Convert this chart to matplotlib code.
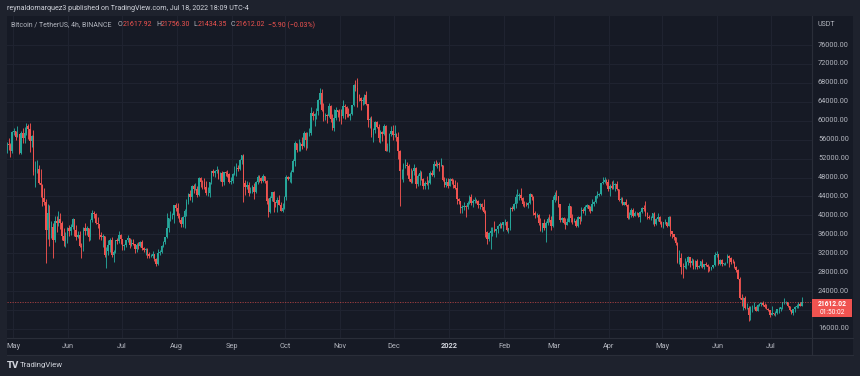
import matplotlib
matplotlib.use("Agg")
import matplotlib.pyplot as plt
import matplotlib.dates as mdates
from matplotlib.patches import Rectangle
from matplotlib.lines import Line2D
import numpy as np
import datetime as dt

# ---------------- data (daily candles, thousands USDT) ----------------
start_date = "2021-04-27"
first_open = 54.0
closes = [
    # Apr 27-30 2021
    55.0, 54.9, 53.6, 57.7,
    # May 2021
    57.8, 56.6, 57.2, 53.2, 57.5, 56.4, 57.4, 58.9, 58.3, 55.8,
    56.7, 49.2, 49.7, 49.9, 46.8, 46.4, 43.6, 42.9, 37.0, 40.6,
    37.3, 37.5, 34.7, 38.8, 38.3, 39.2, 38.4, 35.7, 34.6, 35.7, 37.3,
    # Jun 2021
    36.7, 37.6, 39.2, 36.9, 35.5, 35.8, 33.6, 33.4, 37.4, 36.7,
    37.3, 35.5, 39.0, 40.5, 40.2, 38.3, 38.1, 35.8, 35.5, 35.6,
    31.6, 32.5, 33.7, 34.7, 31.6, 32.2, 34.7, 34.5, 35.9, 35.0,
    # Jul 2021
    33.5, 33.8, 34.7, 35.3, 33.7, 34.2, 33.9, 32.9, 33.8, 33.5,
    34.3, 33.1, 32.7, 32.8, 31.9, 31.4, 31.5, 31.8, 30.8, 29.8,
    32.1, 32.3, 33.6, 34.3, 35.4, 37.3, 39.5, 40.0, 40.0, 42.2, 41.5,
    # Aug 2021
    39.8, 39.1, 38.2, 39.7, 40.9, 42.8, 44.6, 43.8, 46.3, 45.6,
    45.6, 44.4, 47.8, 47.1, 47.0, 45.9, 44.7, 44.7, 47.0, 49.3,
    48.9, 49.3, 49.5, 47.7, 48.9, 47.0, 49.1, 48.9, 48.8, 47.1, 47.2,
    # Sep 2021
    48.8, 49.3, 50.0, 49.9, 51.8, 52.7, 46.9, 46.1, 46.4, 44.8,
    45.2, 46.1, 44.9, 47.1, 48.1, 47.8, 47.3, 48.3, 47.3, 43.0,
    40.7, 43.6, 44.9, 42.8, 42.7, 43.2, 42.2, 41.0, 41.5, 43.8,
    # Oct 2021
    48.1, 47.7, 48.2, 49.2, 51.5, 55.3, 53.8, 53.9, 55.0, 54.7,
    57.5, 56.0, 57.4, 57.4, 61.7, 60.9, 61.5, 62.0, 64.3, 65.9,
    62.2, 60.7, 61.3, 60.9, 63.1, 60.3, 58.5, 60.6, 62.3, 61.9, 61.3,
    # Nov 2021
    61.0, 63.2, 62.9, 61.4, 61.0, 61.5, 63.3, 67.5, 66.9, 64.9,
    64.8, 64.2, 64.4, 65.5, 63.6, 60.1, 60.4, 56.9, 58.1, 59.7,
    58.7, 56.3, 57.6, 57.2, 58.9, 53.7, 54.7, 57.3, 57.8, 57.0,
    # Dec 2021
    57.2, 56.5, 53.6, 49.4, 49.4, 50.6, 50.6, 50.5, 47.7, 47.1,
    49.4, 50.1, 46.7, 48.4, 48.9, 47.6, 46.2, 46.9, 46.7, 46.9,
    49.0, 48.6, 50.8, 50.4, 50.8, 50.7, 50.7, 47.5, 46.5, 47.1, 46.2,
    # Jan 2022
    47.7, 47.3, 46.4, 45.8, 43.4, 43.1, 41.6, 41.7, 41.9, 41.8,
    42.7, 43.9, 42.6, 43.1, 43.2, 43.1, 42.3, 42.4, 41.7, 40.7,
    36.4, 35.1, 36.3, 36.7, 36.9, 36.8, 37.2, 37.7, 38.2, 37.9, 38.5,
    # Feb 2022
    38.7, 36.9, 37.3, 41.6, 41.4, 42.4, 43.8, 44.0, 44.4, 43.6,
    42.4, 42.2, 42.1, 42.6, 44.6, 43.9, 40.5, 40.0, 40.1, 38.4,
    37.0, 38.3, 37.3, 38.3, 39.2, 39.1, 37.7, 43.2,
    # Mar 2022
    44.4, 44.0, 42.5, 39.1, 39.4, 38.4, 37.9, 38.7, 41.9, 39.4,
    38.7, 38.8, 37.8, 39.7, 39.3, 41.1, 40.9, 41.8, 42.2, 41.3,
    41.0, 42.4, 42.9, 44.0, 44.3, 44.5, 46.8, 47.1, 47.4, 47.1, 45.5,
    # Apr 2022
    46.3, 45.8, 46.4, 46.6, 45.5, 43.2, 43.4, 42.3, 42.8, 42.2,
    39.5, 40.1, 41.1, 39.9, 40.6, 40.4, 39.7, 40.8, 41.5, 41.4,
    40.5, 39.7, 39.5, 39.5, 40.4, 38.1, 39.2, 39.7, 38.6, 37.6,
    # May 2022
    38.5, 38.5, 37.7, 39.7, 36.6, 36.0, 35.5, 34.1, 30.1, 31.0,
    29.1, 29.0, 29.3, 30.1, 31.3, 29.9, 30.4, 28.7, 30.3, 29.2,
    29.4, 30.3, 29.1, 29.7, 29.5, 29.2, 28.6, 29.0, 29.5, 31.7, 31.8,
    # Jun 2022
    29.8, 30.5, 29.7, 29.9, 29.9, 31.4, 31.1, 30.2, 30.1, 29.1,
    28.4, 26.6, 22.5, 22.1, 22.6, 20.4, 20.5, 19.0, 20.6, 20.6,
    20.7, 19.9, 21.1, 21.2, 21.5, 21.0, 20.7, 20.3, 20.1, 19.0,
    # Jul 2022
    19.3, 19.2, 19.3, 20.2, 20.2, 20.6, 21.6, 21.6, 21.6, 20.9,
    20.0, 19.3, 20.2, 20.6, 20.8, 21.2, 20.8, 21.612,
]
highs = [
    55.5, 56.4, 55.2, 57.9,
    58.4, 57.9, 58.9, 57.2, 57.9, 58.4, 58.6, 59.5, 59.3, 59.6,
    57.0, 58.0, 51.4, 51.6, 50.7, 49.8, 46.6, 45.8, 43.5, 42.5,
    42.2, 38.8, 38.3, 39.9, 39.8, 40.9, 40.4, 38.9, 37.3, 36.5, 37.5,
    37.9, 38.2, 39.5, 39.3, 37.9, 36.8, 36.8, 34.1, 37.5, 38.4,
    37.7, 37.4, 39.3, 41.1, 41.0, 40.5, 39.6, 38.2, 36.4, 36.1,
    35.7, 33.3, 34.9, 35.3, 35.5, 32.7, 34.7, 35.3, 36.6, 36.0,
    35.0, 33.9, 34.9, 35.9, 35.3, 35.1, 35.0, 33.9, 34.1, 34.3,
    34.6, 34.7, 33.3, 33.1, 33.2, 32.2, 31.9, 32.4, 31.9, 31.0,
    32.9, 32.6, 33.7, 34.5, 35.4, 40.6, 39.5, 40.9, 40.6, 42.3, 42.6,
    42.6, 40.4, 39.7, 39.9, 41.4, 43.4, 44.7, 45.3, 46.4, 46.7,
    46.8, 46.2, 48.1, 48.1, 47.4, 48.0, 47.2, 46.0, 47.0, 49.4,
    49.8, 49.5, 50.5, 49.9, 49.2, 49.4, 49.2, 49.3, 49.6, 48.9, 48.2,
    48.9, 50.4, 51.0, 50.6, 51.9, 52.8, 52.9, 47.4, 47.3, 47.0,
    45.9, 46.4, 46.9, 47.3, 48.5, 48.5, 48.2, 48.8, 48.4, 47.4,
    43.6, 44.0, 45.0, 45.2, 42.9, 43.9, 44.4, 42.8, 42.6, 44.1,
    48.5, 48.4, 49.2, 49.5, 51.9, 55.8, 55.3, 56.1, 55.5, 56.5,
    57.8, 57.7, 57.6, 58.5, 62.9, 62.0, 61.7, 62.7, 64.5, 67.0,
    66.6, 63.7, 61.7, 61.5, 63.7, 63.3, 61.5, 62.5, 62.9, 62.3, 62.4,
    62.4, 64.3, 63.5, 63.1, 62.6, 61.6, 63.3, 67.8, 68.5, 69.0,
    65.6, 65.0, 65.0, 65.6, 66.3, 63.6, 60.8, 60.9, 58.4, 59.9,
    60.0, 59.3, 58.0, 57.9, 59.4, 59.2, 55.3, 57.4, 58.9, 59.2,
    59.0, 57.4, 57.6, 53.9, 49.7, 51.0, 51.9, 51.2, 50.8, 50.1,
    49.5, 50.8, 50.3, 48.7, 49.5, 49.4, 48.0, 47.3, 48.3, 47.5,
    49.3, 49.6, 51.4, 51.8, 51.2, 51.3, 52.1, 50.7, 48.1, 47.9, 48.0,
    47.9, 47.9, 47.6, 47.5, 47.1, 43.7, 43.1, 42.3, 42.8, 42.2,
    43.0, 44.3, 44.5, 43.5, 43.8, 43.5, 43.2, 42.7, 42.6, 43.5,
    41.1, 36.8, 36.5, 37.5, 37.5, 38.9, 37.2, 38.0, 38.7, 38.4, 38.7,
    39.3, 38.9, 37.4, 41.7, 41.9, 42.6, 44.5, 45.5, 44.8, 45.8,
    43.9, 43.0, 42.8, 42.9, 44.8, 44.6, 44.2, 40.9, 40.5, 40.2,
    39.5, 38.4, 39.3, 38.8, 39.7, 40.3, 39.9, 44.2,
    44.9, 45.4, 44.1, 42.5, 39.7, 39.6, 39.5, 39.4, 42.6, 42.0,
    40.2, 39.4, 39.3, 39.9, 39.9, 41.7, 41.5, 42.3, 42.4, 42.3,
    42.0, 43.4, 43.0, 44.3, 45.1, 44.8, 46.9, 48.2, 48.1, 47.7, 47.6,
    46.7, 47.2, 47.4, 46.9, 47.2, 45.5, 43.9, 43.9, 42.8, 43.4,
    42.4, 40.7, 41.6, 41.5, 40.9, 40.7, 40.6, 41.0, 41.8, 42.2,
    43.0, 40.8, 40.0, 39.9, 40.6, 40.8, 39.5, 40.4, 39.9, 38.8,
    38.7, 39.2, 38.6, 39.9, 39.8, 36.7, 36.1, 35.5, 34.3, 32.7,
    32.0, 30.0, 30.9, 30.3, 31.4, 31.3, 31.0, 30.7, 30.5, 30.8,
    29.6, 30.4, 30.7, 29.8, 30.2, 29.8, 29.4, 29.2, 29.5, 32.2, 32.4,
    31.9, 30.7, 30.7, 29.9, 30.2, 31.8, 31.6, 31.3, 30.7, 30.4,
    29.4, 28.6, 26.9, 23.4, 22.8, 22.9, 21.4, 20.8, 20.8, 21.0,
    21.7, 20.9, 21.2, 21.5, 21.6, 21.9, 21.5, 21.2, 20.4, 20.1,
    20.9, 19.4, 19.7, 20.3, 20.7, 20.7, 21.8, 22.5, 21.9, 21.6,
    20.9, 20.0, 20.3, 20.9, 21.2, 21.6, 21.7, 22.8,
]
lows = [
    53.2, 53.9, 52.3, 53.1,
    57.0, 56.0, 56.5, 53.0, 52.9, 55.2, 55.3, 56.9, 56.2, 53.4,
    54.4, 48.6, 46.0, 48.9, 46.6, 43.8, 42.0, 42.3, 30.0, 35.0,
    33.5, 35.2, 31.1, 34.4, 36.4, 37.8, 37.2, 34.7, 33.6, 33.4, 34.2,
    35.7, 35.9, 37.2, 35.6, 34.8, 35.3, 33.4, 31.0, 32.4, 35.8,
    35.9, 34.6, 34.8, 38.7, 39.5, 38.1, 37.4, 35.1, 34.8, 33.3,
    31.3, 28.8, 31.7, 32.3, 31.3, 30.2, 32.0, 33.9, 34.2, 34.0,
    32.7, 32.7, 33.3, 34.4, 33.2, 33.5, 33.8, 32.1, 32.3, 33.0,
    33.3, 32.7, 32.2, 31.6, 31.1, 31.0, 31.2, 31.1, 30.4, 29.3,
    29.5, 31.7, 32.0, 33.4, 33.9, 35.2, 36.4, 38.8, 39.2, 38.3, 41.0,
    39.4, 38.7, 37.6, 37.5, 37.3, 39.9, 42.5, 43.3, 42.8, 44.7,
    45.4, 43.8, 44.2, 45.9, 45.5, 45.6, 44.4, 44.2, 43.9, 46.7,
    48.3, 48.1, 49.0, 47.6, 47.2, 46.3, 46.4, 48.4, 48.1, 46.9, 46.7,
    46.9, 48.6, 48.4, 49.4, 49.5, 50.9, 42.8, 44.4, 45.5, 44.1,
    44.8, 44.8, 43.4, 44.7, 46.7, 47.0, 46.8, 47.1, 46.9, 42.5,
    39.6, 40.6, 43.1, 40.7, 41.7, 40.8, 42.1, 40.9, 40.8, 41.4,
    43.3, 47.4, 47.1, 46.9, 49.1, 50.4, 53.4, 53.6, 53.7, 54.1,
    54.4, 53.9, 54.3, 56.8, 56.9, 60.1, 58.9, 60.3, 61.3, 63.5,
    62.0, 60.0, 60.2, 59.5, 60.7, 59.8, 58.0, 57.8, 60.2, 60.8, 59.9,
    59.4, 60.6, 60.4, 60.7, 60.7, 60.1, 61.3, 63.1, 66.3, 62.8,
    64.1, 62.3, 63.4, 63.6, 63.4, 58.6, 58.4, 56.5, 55.6, 57.5,
    58.5, 55.6, 55.3, 55.8, 57.0, 53.5, 53.6, 53.3, 56.7, 55.9,
    56.5, 55.8, 52.0, 42.0, 47.7, 47.1, 50.0, 48.6, 47.3, 46.9,
    46.8, 48.6, 45.7, 46.3, 46.5, 47.5, 45.5, 45.6, 46.4, 45.6,
    46.6, 48.4, 48.1, 50.4, 50.1, 49.4, 50.5, 47.3, 46.1, 45.9, 45.7,
    46.2, 46.7, 45.7, 45.5, 42.5, 42.4, 40.6, 40.5, 41.2, 39.7,
    41.3, 42.4, 42.3, 41.7, 42.6, 42.6, 41.5, 41.3, 41.1, 40.6,
    35.4, 34.0, 34.6, 33.0, 35.7, 36.4, 35.5, 36.2, 37.4, 37.4, 36.6,
    38.0, 36.6, 36.3, 37.0, 40.9, 41.1, 41.6, 42.7, 43.2, 43.2,
    42.0, 41.8, 41.9, 41.6, 42.4, 43.3, 40.1, 39.5, 39.6, 38.0,
    36.8, 36.4, 37.0, 34.3, 38.0, 38.6, 37.0, 37.5,
    42.8, 43.3, 41.8, 38.6, 38.6, 38.1, 37.2, 37.9, 38.7, 38.5,
    38.2, 38.7, 37.6, 37.6, 38.1, 38.9, 40.5, 40.1, 41.5, 40.9,
    40.5, 40.9, 41.9, 42.6, 43.6, 44.1, 44.4, 46.6, 46.9, 46.5, 45.2,
    44.2, 45.6, 45.5, 45.1, 45.4, 43.1, 42.7, 42.1, 42.1, 41.9,
    39.2, 39.3, 39.6, 39.6, 39.8, 40.0, 39.6, 38.5, 40.6, 40.9,
    39.8, 39.2, 39.3, 39.0, 38.2, 37.7, 37.9, 38.9, 38.2, 37.6,
    37.4, 38.1, 37.5, 37.7, 35.6, 35.3, 34.8, 33.7, 30.0, 29.7,
    27.7, 26.7, 28.8, 28.6, 29.5, 29.1, 29.5, 28.6, 28.7, 28.7,
    28.9, 29.2, 28.9, 28.7, 29.3, 28.0, 28.3, 28.5, 28.8, 29.3, 31.2,
    29.5, 29.6, 29.3, 29.5, 29.5, 29.9, 29.2, 29.8, 29.9, 28.8,
    28.1, 26.6, 22.3, 20.8, 20.1, 20.2, 20.2, 17.6, 17.9, 19.6,
    20.3, 19.8, 19.9, 20.8, 20.9, 20.9, 20.5, 20.2, 19.8, 18.6,
    18.9, 19.0, 18.8, 19.1, 19.3, 19.8, 20.2, 21.2, 21.3, 20.7,
    19.9, 19.2, 18.9, 19.6, 20.4, 20.5, 20.8, 20.8,
]
price_ticks = [16000, 20000, 24000, 28000, 32000, 36000, 40000, 44000,
               48000, 52000, 56000, 60000, 64000, 68000, 72000, 76000]
month_labels = ["May", "Jun", "Jul", "Aug", "Sep", "Oct", "Nov", "Dec",
                "2022", "Feb", "Mar", "Apr", "May", "Jun", "Jul"]
month_dates = ["2021-05-01", "2021-06-01", "2021-07-01", "2021-08-01",
               "2021-09-01", "2021-10-01", "2021-11-01", "2021-12-01",
               "2022-01-01", "2022-02-01", "2022-03-01", "2022-04-01",
               "2022-05-01", "2022-06-01", "2022-07-01"]
last_price = 21612.02
header = "reynaldomarquez3 published on TradingView.com, Jul 18, 2022 18:09 UTC-4"
symbol = "Bitcoin / TetherUS, 4h, BINANCE"
ohlc_labels = ["O", "H", "L", "C"]
ohlc_values = ["21617.92", "21756.30", "21434.35", "21612.02"]
change_text = "\u22125.90 (\u22120.03%)"
countdown = "01:50:02"

# ---------------- styling ----------------
W, H = 860, 376
OUTER = "#1e222d"
CHART = "#161a25"
GRID = "#1f2330"
SEP = "#2a2e39"
TXT = "#b2b5be"
UP = "#26a69a"
DN = "#ef5350"
FONT = "Roboto"

plt.rcParams["font.family"] = [FONT, "DejaVu Sans"]

c = np.array(closes) * 1000.0
h = np.array(highs) * 1000.0
l = np.array(lows) * 1000.0
o = np.concatenate([[first_open * 1000.0], c[:-1]])
h = np.maximum(h, np.maximum(o, c))
l = np.minimum(l, np.minimum(o, c))
d0 = dt.datetime.strptime(start_date, "%Y-%m-%d")
x = np.array([mdates.date2num(d0 + dt.timedelta(days=i)) for i in range(len(c))]) + 0.5

fig = plt.figure(figsize=(W / 100, H / 100), dpi=100, facecolor=OUTER)

def fx(px):
    return px / W

def fy(py):
    return 1 - py / H

# dark chart panel (chart + price scale + time scale), drawn below the axes
fig.patches.append(Rectangle((fx(7), fy(355)), fx(853) - fx(7), fy(16) - fy(355),
                             transform=fig.transFigure, facecolor=CHART, edgecolor="none", zorder=-5))

L0, R0, T0, B0 = 7, 812, 16, 338
ax = fig.add_axes([fx(L0), fy(B0), fx(R0) - fx(L0), fy(T0) - fy(B0)])
ax.set_zorder(1)
ax.set_facecolor(CHART)
for s in ax.spines.values():
    s.set_visible(False)

may1 = mdates.date2num(dt.datetime(2021, 5, 1))
ppd = 1.779
ax.set_xlim(may1 - (13 - L0) / ppd, may1 + (R0 - 13) / ppd)
p_per_px = 1 / 0.004733
ax.set_ylim(76000 - (B0 - 45) * p_per_px, 76000 + (45 - T0) * p_per_px)
ax.set_xticks([])
ax.set_yticks([])

# grid
for p in price_ticks:
    ax.axhline(p, color=GRID, lw=0.8, zorder=1)
mnums = [mdates.date2num(dt.datetime.strptime(s, "%Y-%m-%d")) for s in month_dates]
for m in mnums:
    ax.axvline(m, color=GRID, lw=0.8, zorder=1)

# candles
up = c >= o
cols = np.where(up, UP, DN)
ax.vlines(x, l, h, colors=cols, lw=0.65, zorder=2)
ax.bar(x, np.abs(c - o), bottom=np.minimum(o, c), width=0.8, color=cols,
       linewidth=0, zorder=3)

# last price line
ax.axhline(last_price, color=DN, lw=0.6, ls=(0, (1.5, 1.5)), alpha=0.7, zorder=4)

# price scale labels (the one hidden under the last-price box is not shown)
ytr = ax.get_yaxis_transform()
for p in price_ticks:
    if abs(p - last_price) < 2000:
        continue
    ax.text((818 - L0) / (R0 - L0), p, f"{p:.2f}", transform=ytr, ha="left", va="center",
            fontsize=5.3, color=TXT, clip_on=False)

# time labels
xtr = ax.get_xaxis_transform()
for m, lab in zip(mnums, month_labels):
    ax.text(m, -(346.5 - B0) / (B0 - T0), lab, transform=xtr, ha="center", va="center",
            fontsize=5.3, color=("#d1d4dc" if lab == "2022" else TXT),
            fontweight=("bold" if lab == "2022" else "normal"), clip_on=False)

# separators
fig.add_artist(Line2D([fx(R0), fx(R0)], [fy(16), fy(355)], color=SEP, lw=0.8, zorder=2))
fig.add_artist(Line2D([fx(7), fx(853)], [fy(B0), fy(B0)], color=SEP, lw=0.8, zorder=2))
fig.add_artist(Line2D([fx(7), fx(853)], [fy(355), fy(355)], color=SEP, lw=0.8, zorder=2))

# header texts
fig.text(fx(7), fy(9), header, fontsize=5.1, color="#d1d4dc", ha="left", va="center")
fig.text(fx(11), fy(25), symbol, fontsize=5.0, color=TXT, ha="left", va="center", zorder=3)
ox = [118, 156, 193, 231]
for xx, lab, val in zip(ox, ohlc_labels, ohlc_values):
    fig.text(fx(xx), fy(25), lab, fontsize=5.0, color=TXT, ha="left", va="center", zorder=3)
    fig.text(fx(xx + 5), fy(25), val, fontsize=5.0, color=DN, ha="left", va="center", zorder=3)
fig.text(fx(268), fy(25), change_text, fontsize=5.0, color=DN, ha="left", va="center", zorder=3)
fig.text(fx(818), fy(24), "USDT", fontsize=5.0, color=TXT, ha="left", va="center", zorder=3)

# last price box
fig.patches.append(Rectangle((fx(812), fy(317)), fx(852) - fx(812), fy(299) - fy(317),
                             transform=fig.transFigure, facecolor="#f05350", edgecolor="none", zorder=5))
fig.text(fx(832), fy(303.6), f"{last_price:.2f}", fontsize=4.9, color="white", fontweight="bold",
         ha="center", va="center", zorder=6)
fig.text(fx(832), fy(312.6), countdown, fontsize=4.7, color="white", ha="center", va="center", zorder=6)

# TradingView logo
fig.text(fx(7), fy(365.5), "TV", fontsize=6.0, color="#d1d4dc", fontweight="black",
         ha="left", va="center", family="DejaVu Sans")
fig.text(fx(20), fy(365.5), "TradingView", fontsize=5.6, color="#d1d4dc", ha="left", va="center")

fig.savefig("out.png", dpi=100, facecolor=OUTER)
